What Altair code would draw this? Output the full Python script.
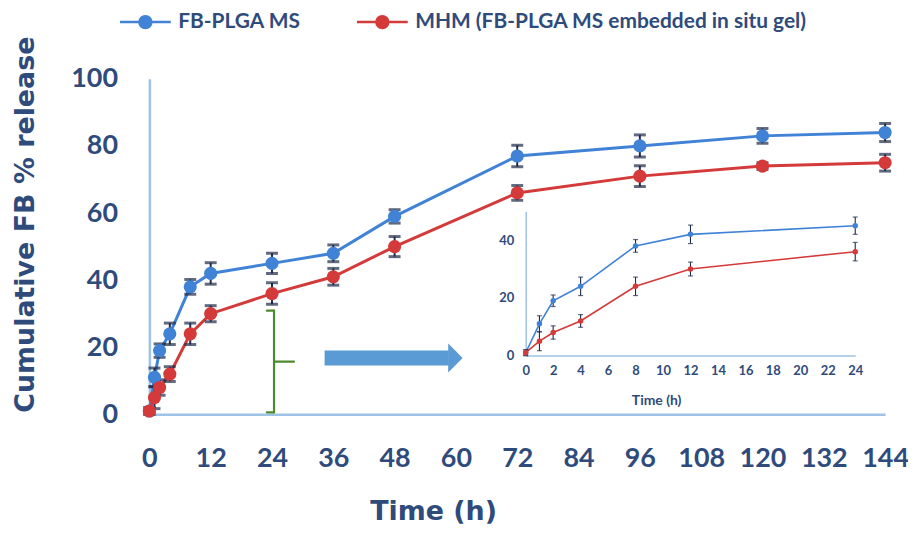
import altair as alt
import pandas as pd

# ---- data ----
time_h = [0, 1, 2, 4, 8, 12, 24, 36, 48, 72, 96, 120, 144]
fb_plga = [1, 11, 19, 24, 38, 42, 45, 48, 59, 77, 80, 83, 84]
fb_plga_err = [1, 2.8, 2, 3.2, 2.2, 3.2, 3, 2.5, 2, 3.2, 3.3, 2.2, 2.7]
mhm = [1, 5, 8, 12, 24, 30, 36, 41, 50, 66, 71, 74, 75]
mhm_err = [1, 3.3, 2.3, 2.2, 3.2, 2.4, 3.2, 2.5, 3, 2.2, 3.1, 1, 2.5]

series_names = ["FB-PLGA MS", "MHM (FB-PLGA MS embedded in situ gel)"]
main_x_ticks = [0, 12, 24, 36, 48, 60, 72, 84, 96, 108, 120, 132, 144]
main_y_ticks = [0, 20, 40, 60, 80, 100]
inset_x_ticks = [0, 2, 4, 6, 8, 10, 12, 14, 16, 18, 20, 22, 24]
inset_y_ticks = [0, 20, 40]
inset_max_t = 24

# annotation: bracket (segments) and arrow, in data units
bracket_t1 = [24.4, 23.0, 23.0, 24.4]
bracket_t2 = [24.4, 24.4, 24.4, 28.3]
bracket_v1 = [0.6, 30.9, 0.6, 15.7]
bracket_v2 = [30.9, 30.9, 0.6, 15.7]
arrow_t1 = [34.3]
arrow_t2 = [58.6]
arrow_v = [16.8]
arrow_head_t = [59.9]

BLUE = "#4082D6"
RED = "#D43A3A"
NAVY = "#2F4B7C"
ERR = "#1E2B48"
AXIS_LINE = "#9DC3E6"
FONT = "Lato"
TFONT = "DejaVu Sans"

rows = []
for name, vals, errs in [(series_names[0], fb_plga, fb_plga_err), (series_names[1], mhm, mhm_err)]:
    for t, v, e in zip(time_h, vals, errs):
        rows.append({"t": t, "v": v, "lo": v - e, "hi": v + e, "series": name})
df = pd.DataFrame(rows)
inset_df = df[df["t"] <= inset_max_t]

bracket_df = pd.DataFrame({"t": bracket_t1, "t2": bracket_t2, "v": bracket_v1, "v2": bracket_v2})
arrow_df = pd.DataFrame({"t": arrow_t1, "t2": arrow_t2, "v": arrow_v})
head_df = pd.DataFrame({"t": arrow_head_t, "v": arrow_v})

W, H = 739, 337

legend = alt.Legend(
    title=None, orient="none", legendX=-31, legendY=-84, direction="horizontal",
    columns=2, columnPadding=50, padding=0,
    symbolType="M-1,0L1,0M-0.235,0A0.235,0.235,0,1,1,0.235,0A0.235,0.235,0,1,1,-0.235,0Z",
    symbolSize=2601, symbolStrokeWidth=2.5,
    labelFont=FONT, labelFontSize=21, labelFontWeight="bold", labelColor=NAVY,
    labelOffset=6, labelLimit=700,
)
color = alt.Color("series:N", scale=alt.Scale(domain=series_names, range=[BLUE, RED]), legend=legend)

main_x = alt.X("t:Q", scale=alt.Scale(domain=[0, 144], nice=False, zero=False),
               axis=alt.Axis(values=main_x_ticks, title="Time (h)", grid=False, ticks=False,
                             labelFont=FONT, labelFontSize=27, labelFontWeight="bold",
                             labelColor=NAVY, labelPadding=31, labelFlush=False,
                             labelOverlap=False,
                             domainColor=AXIS_LINE, domainWidth=2.5,
                             titleFont=TFONT, titleFontSize=27, titleFontWeight="bold",
                             titleColor=NAVY, titleX=285, titleY=106,
                             titleBaseline="alphabetic", titleAlign="center"))
main_y = alt.Y("v:Q", scale=alt.Scale(domain=[0, 100], nice=False),
               axis=alt.Axis(values=main_y_ticks, title="Cumulative FB % release", grid=False,
                             ticks=False, labelFont=FONT, labelFontSize=27,
                             labelFontWeight="bold", labelColor=NAVY, labelPadding=32,
                             labelFlush=False, labelOverlap=False,
                             domainColor=AXIS_LINE, domainWidth=2.5,
                             titleFont=TFONT, titleFontSize=27, titleFontWeight="bold",
                             titleColor=NAVY, titleX=-124, titleY=146, titleAngle=-90,
                             titleAlign="center", titleBaseline="middle"))

base = alt.Chart(df)
m_line = base.mark_line(strokeWidth=3).encode(x=main_x, y=main_y, color=color, detail="series:N")
m_rule = base.mark_rule(color=ERR, strokeWidth=2).encode(x=main_x, y=alt.Y("lo:Q"), y2="hi:Q")
m_lo = base.mark_tick(color=ERR, orient="horizontal", size=12, thickness=3).encode(x=main_x, y=alt.Y("lo:Q"))
m_hi = base.mark_tick(color=ERR, orient="horizontal", size=12, thickness=3).encode(x=main_x, y=alt.Y("hi:Q"))
m_pts = base.mark_point(filled=True, size=175, opacity=1).encode(x=main_x, y=main_y, color=color)

br = alt.Chart(bracket_df).mark_rule(color="#4E8A2E", strokeWidth=2.2, strokeCap="round").encode(
    x=main_x, x2="t2:Q", y=main_y, y2="v2:Q")
ar = alt.Chart(arrow_df).mark_rule(color="#5B9BD5", strokeWidth=15, strokeCap="butt").encode(
    x=main_x, x2="t2:Q", y=main_y)
ah = alt.Chart(head_df).mark_point(shape="M-0.5,-1L0.5,0L-0.5,1Z", filled=True, size=841,
                                    color="#5B9BD5", opacity=1).encode(x=main_x, y=main_y)

main = alt.layer(m_line, m_rule, m_lo, m_hi, m_pts, br, ar, ah)

# ---- inset ----
in_x = alt.X("t:Q", scale=alt.Scale(domain=[0, 24], range=[378, 709], nice=False, zero=False),
             axis=alt.Axis(orient="bottom", offset=-59, values=inset_x_ticks, title="Time (h)",
                           grid=False, ticks=False, labelFont=FONT, labelFontSize=13,
                           labelFontWeight="bold", labelColor=NAVY, labelPadding=9,
                           labelFlush=False, labelOverlap=False,
                           domainColor=AXIS_LINE, domainWidth=1.5,
                           titleFont=FONT, titleFontSize=14, titleFontWeight="bold",
                           titleColor=NAVY, titleX=509, titleY=45, titleBaseline="middle",
                           titleAlign="center"))
in_y = alt.Y("v:Q", scale=alt.Scale(domain=[0, 50], range=[278, 133], nice=False),
             axis=alt.Axis(orient="left", offset=-378, values=inset_y_ticks, title=None,
                           grid=False, ticks=False, labelFont=FONT, labelFontSize=13,
                           labelFontWeight="bold", labelColor=NAVY, labelPadding=12,
                           labelFlush=False, labelOverlap=False,
                           domainColor=AXIS_LINE, domainWidth=1.5))

ib = alt.Chart(inset_df)
i_line = ib.mark_line(strokeWidth=1.6).encode(x=in_x, y=in_y, color=color, detail="series:N")
i_rule = ib.mark_rule(color=ERR, strokeWidth=1.1).encode(x=in_x, y=alt.Y("lo:Q"), y2="hi:Q")
i_lo = ib.mark_tick(color=ERR, orient="horizontal", size=5, thickness=1.2).encode(x=in_x, y=alt.Y("lo:Q"))
i_hi = ib.mark_tick(color=ERR, orient="horizontal", size=5, thickness=1.2).encode(x=in_x, y=alt.Y("hi:Q"))
i_pts = ib.mark_point(filled=True, size=30, opacity=1).encode(x=in_x, y=in_y, color=color)
inset = alt.layer(i_line, i_rule, i_lo, i_hi, i_pts)

chart = alt.layer(main, inset).resolve_scale(x="independent", y="independent").properties(
    width=W, height=H,
    autosize=alt.AutoSizeParams(type="none"),
    padding={"left": 142, "top": 70, "right": 23, "bottom": 112},
    background="white",
).configure_view(stroke=None)

chart.save("out.html", embed_options={"renderer": "svg", "actions": False})
